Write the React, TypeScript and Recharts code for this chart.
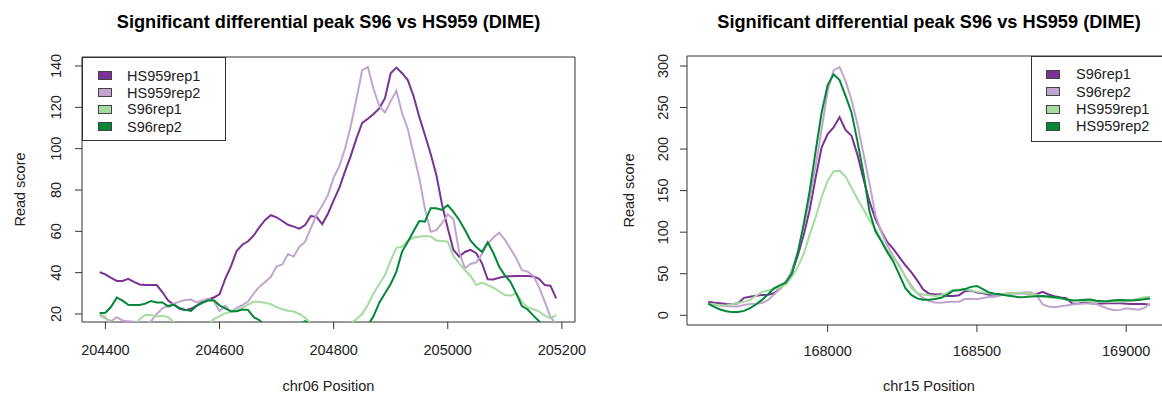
import React from 'react';
import { LineChart, Line, XAxis, YAxis, ReferenceArea, Legend } from 'recharts';

// ---- data: read scores, binned every 10 bp (chr06) / 20 bp (chr15) ----

const FONT = '"Liberation Sans", Arial, Helvetica, sans-serif';
const TITLE = 'Significant differential peak S96 vs HS959 (DIME)';

const PURPLE_DARK = '#7B3294';
const PURPLE_LIGHT = '#C2A5CF';
const GREEN_LIGHT = '#A6DBA0';
const GREEN_DARK = '#008837';

// chr06 bins: 204390 .. 205190, step 10
const chr06Start = 204390;
const chr06Step = 10;

const chr06Hs959rep1 = [
  40.2, 39.2, 37.5, 36, 36, 37, 35.5, 34.3, 34, 34, 34, 30.5, 26.5, 24.5, 22.5, 21.8, 22.5, 24, 26, 27,
  28, 29.5, 37, 43, 50.5, 53.5, 55.2, 58, 62, 65.5, 67.8, 66.8, 65, 63.2, 62.3, 61.3, 63, 67.4, 67, 63.5,
  68.5, 75, 81, 89, 96.5, 105, 112.5, 114.5, 116.8, 119.5, 124.4, 136.5, 139.2, 136.5, 133.2, 125.5, 115.5, 106.6, 97.5, 87.3,
  73, 61.5, 51, 47.8, 50, 51, 49.4, 44.5, 36.8, 36.7, 37.5, 38.1, 38.3, 38.4, 38.4, 38.4, 38.2, 37, 34, 33.7,
  27.6,
];
const chr06Hs959rep2 = [
  19.5, 17.9, 16.5, 18.5, 16.8, 16.5, 16.2, 15.5, 15.5, 16.5, 20, 22.8, 24, 25, 26, 26.8, 27, 25.6, 26.5, 27.5,
  26.3, 21.5, 24, 21, 23, 24.3, 26, 30, 33.2, 35.5, 38, 43, 44, 49, 47.8, 52.5, 55, 61.5, 68, 72.5,
  77.5, 86, 91.5, 100, 111, 124, 138, 139.5, 129, 120.5, 117.5, 123, 128, 117.1, 109.5, 97.5, 86, 71, 59.8, 60.6,
  64, 68.2, 66, 50, 42.1, 44.2, 45, 49, 54, 57, 59.3, 56, 51.5, 47, 41.2, 40.5, 38.4, 33, 26, 18.5,
  15,
];
const chr06S96rep1 = [
  20.3, 18.5, 15, 13, 12, 12, 14, 17.5, 19.5, 19.5, 18.8, 19.2, 18.5, 16, 14, 13, 12, 12, 13, 15,
  17.5, 19, 20.3, 21, 21.8, 23, 24.5, 26, 25.8, 25.4, 24.8, 23.3, 22.3, 21.6, 21.2, 20, 18.2, 15.5, 13, 12,
  11, 11, 11.5, 13, 15.5, 17.6, 20, 24.5, 30, 34.5, 38.9, 46, 52, 52.5, 55.5, 57, 57.4, 57.7, 57.5, 55.6,
  55.3, 55, 48, 44.5, 41.3, 38.4, 34, 35.2, 34, 32.7, 31, 29.2, 28.9, 30, 26, 23.2, 22.3, 21.2, 19.2, 18,
  19.5,
];
const chr06S96rep2 = [
  20.5, 20.6, 23.5, 28, 26.5, 24.5, 24.4, 24.4, 25, 26.3, 25.6, 25.6, 23.7, 24.5, 22.9, 22, 21.5, 24, 25.4, 26.5,
  26.6, 24.2, 22.7, 21.3, 21.3, 22.2, 22, 18.5, 17, 14.5, 13, 12.5, 12, 12.5, 13.5, 15, 16.5, 15, 12, 10,
  9, 8.5, 8.5, 9, 10, 11, 12, 14.5, 19, 25.5, 30, 34.5, 40.5, 50.2, 55, 60, 65, 64.7, 71.2, 71.2,
  70.4, 72.7, 69.4, 65.5, 60.8, 55.5, 52.4, 50, 54.7, 49.5, 43, 38.7, 35.5, 30, 23.8, 22.2, 19.2, 16.5, 13.5, 11,
  9,
];

// chr15 bins: 167600 .. 169080, step 20
const chr15Start = 167600;
const chr15Step = 20;

const chr15S96rep1 = [
  16.2, 15, 14.4, 13.7, 13.2, 14.5, 21, 22.2, 23.5, 24.5, 24.8, 26.5, 32, 39, 51, 72, 97, 127, 166, 202,
  218, 226, 238.5, 223, 216, 193, 164, 137, 116, 101, 88, 80, 70, 60.5, 52, 42, 31, 26, 25, 25.2,
  23.3, 23.3, 24.2, 29, 29.8, 27.3, 26.5, 24.8, 24.9, 25.3, 25.8, 26.5, 26.5, 26.5, 26, 25.3, 28.2, 25, 23, 21.5,
  20.5, 14, 14, 16, 14.5, 13.8, 14.3, 14.4, 14.4, 14.4, 14, 13.6, 13.6, 13.5, 12.8,
];
const chr15S96rep2 = [
  14, 12.8, 11.6, 11.2, 10.6, 10.6, 12.5, 13.5, 14, 14.8, 18.2, 24.8, 31.8, 40.5, 54, 77, 107, 141, 180, 224,
  270, 295, 298.5, 282, 259, 230, 194, 159, 121, 100, 84, 71, 59, 47, 36, 26.5, 21, 17, 15.5, 15.2,
  16, 16.4, 16.4, 19.5, 20, 19.3, 20.8, 21.9, 22.4, 24.2, 26.5, 26.5, 26.5, 27.6, 27.8, 24.5, 13, 10.5, 9.7, 10.8,
  11.8, 12.9, 13.7, 14.3, 14.2, 13.6, 10.5, 7.8, 6, 6.5, 8.3, 7.5, 6.8, 8.8, 14,
];
const chr15Hs959rep1 = [
  14, 13.2, 12.2, 11.8, 13.2, 14.6, 16.3, 18.4, 23.5, 28, 29.8, 31.5, 33.5, 37, 46, 58, 74, 97, 118, 142,
  162, 173, 174, 167, 153.5, 140, 127.5, 114.5, 104, 91, 78, 68.5, 61, 46, 33, 26.5, 25, 24, 23.3, 24,
  27, 30.5, 31, 31, 30, 28.3, 27.3, 26.5, 25.7, 25.7, 25.7, 26.5, 27.2, 27, 26, 24.5, 22.6, 21.7, 20.8, 20,
  19, 18.3, 17.9, 17.5, 17, 16.4, 16.4, 16.4, 16.4, 16.4, 17, 18.3, 20, 21.7, 22.3,
];
const chr15Hs959rep2 = [
  14, 10, 7, 4.8, 3.8, 4, 5.3, 8.5, 13, 18.5, 25, 32.5, 36, 39.5, 50, 74.5, 110, 150, 198, 244,
  277, 290, 283, 264, 244, 209, 171, 125, 101, 89, 76, 64.5, 49, 33, 24.5, 20.3, 18.8, 18.6, 19.5, 21,
  24.5, 29.6, 30.2, 31.5, 34.2, 35.3, 31.5, 27.5, 26, 25, 23.8, 23, 21.8, 22, 22.6, 23, 23.2, 22.6, 21.8, 21,
  19, 17.7, 18, 18.6, 19, 17.5, 16.8, 17.2, 18.2, 18.4, 18, 17.7, 18.5, 19.4, 20.2,
];

const chr06XTicks = [204400, 204600, 204800, 205000, 205200];
const chr06YTicks = [20, 40, 60, 80, 100, 120, 140];
const chr15XTicks = [168000, 168500, 169000];
const chr15YTicks = [0, 50, 100, 150, 200, 250, 300];

const leftSeries = [
  { key: 'HS959rep1', color: PURPLE_DARK, values: chr06Hs959rep1 },
  { key: 'HS959rep2', color: PURPLE_LIGHT, values: chr06Hs959rep2 },
  { key: 'S96rep1', color: GREEN_LIGHT, values: chr06S96rep1 },
  { key: 'S96rep2', color: GREEN_DARK, values: chr06S96rep2 },
];
const rightSeries = [
  { key: 'S96rep1', color: PURPLE_DARK, values: chr15S96rep1 },
  { key: 'S96rep2', color: PURPLE_LIGHT, values: chr15S96rep2 },
  { key: 'HS959rep1', color: GREEN_LIGHT, values: chr15Hs959rep1 },
  { key: 'HS959rep2', color: GREEN_DARK, values: chr15Hs959rep2 },
];

type Series = { key: string; color: string; values: number[] };

function buildRows(start: number, step: number, series: Series[]) {
  return series[0].values.map((_, i) => {
    const row: Record<string, number> = { pos: start + i * step };
    series.forEach((s) => {
      row[s.key] = s.values[i];
    });
    return row;
  });
}

const leftRows = buildRows(chr06Start, chr06Step, leftSeries);
const rightRows = buildRows(chr15Start, chr15Step, rightSeries);

const TXT = '#222';
const AXIS = '#333';

function XTick(props: any) {
  const { x, payload, labelY } = props;
  return (
    <text x={x} y={labelY} textAnchor="middle" fontSize={14.5} fontFamily={FONT} fill={TXT}>
      {payload.value}
    </text>
  );
}

function YTick(props: any) {
  const { y, payload, labelX } = props;
  return (
    <text
      x={labelX}
      y={y}
      transform={`rotate(-90 ${labelX} ${y})`}
      textAnchor="middle"
      fontSize={14.5}
      fontFamily={FONT}
      fill={TXT}
    >
      {payload.value}
    </text>
  );
}

function LegendBox({ series, swatchX, textX, rowY }: { series: Series[]; swatchX: number; textX: number; rowY: number[] }) {
  return (
    <div
      style={{
        position: 'relative',
        width: '100%',
        height: '100%',
        boxSizing: 'border-box',
        border: `1px solid ${AXIS}`,
        background: '#fff',
        fontFamily: FONT,
        fontSize: 14.5,
        color: TXT,
      }}
    >
      {series.map((s, i) => (
        <React.Fragment key={s.key}>
          <div
            style={{
              position: 'absolute',
              left: swatchX,
              top: rowY[i] - 4.5,
              width: 14,
              height: 9,
              boxSizing: 'border-box',
              background: s.color,
              border: '1px solid #444',
            }}
          />
          <div style={{ position: 'absolute', left: textX, top: rowY[i] - 9, lineHeight: '18px', whiteSpace: 'nowrap' }}>
            {s.key}
          </div>
        </React.Fragment>
      ))}
    </div>
  );
}

function Panel(props: {
  rows: Record<string, number>[];
  series: Series[];
  xDomain: [number, number];
  yDomain: [number, number];
  xTicks: number[];
  yTicks: number[];
  margin: { top: number; right: number; bottom: number; left: number };
  xLabelY: number;
  yLabelX: number;
  legendStyle: React.CSSProperties;
  legendRows: number[];
  legendSwatchX: number;
  legendTextX: number;
}) {
  const { rows, series, xDomain, yDomain, xTicks, yTicks, margin } = props;
  return (
    <LineChart width={600} height={394} data={rows} margin={margin}>
      <XAxis
        dataKey="pos"
        type="number"
        domain={xDomain}
        ticks={xTicks}
        allowDataOverflow
        height={30}
        axisLine={false}
        tickLine={{ stroke: AXIS }}
        tickSize={7}
        tick={(p: any) => <XTick {...p} labelY={props.xLabelY} />}
        interval={0}
      />
      <YAxis
        type="number"
        domain={yDomain}
        ticks={yTicks}
        allowDataOverflow
        width={40}
        axisLine={false}
        tickLine={{ stroke: AXIS }}
        tickSize={7}
        tick={(p: any) => <YTick {...p} labelX={props.yLabelX} />}
        interval={0}
      />
      {series.map((s) => (
        <Line
          key={s.key}
          type="linear"
          dataKey={s.key}
          stroke={s.color}
          strokeWidth={2}
          dot={false}
          activeDot={false}
          isAnimationActive={false}
        />
      ))}
      <ReferenceArea
        x1={xDomain[0]}
        x2={xDomain[1]}
        y1={yDomain[0]}
        y2={yDomain[1]}
        fill="none"
        fillOpacity={0}
        stroke={AXIS}
        strokeWidth={1}
        ifOverflow="visible"
      />
      <Legend
        layout="horizontal"
        verticalAlign="middle"
        align="center"
        wrapperStyle={props.legendStyle}
        content={() => (
          <LegendBox series={series} swatchX={props.legendSwatchX} textX={props.legendTextX} rowY={props.legendRows} />
        )}
      />
    </LineChart>
  );
}

export default function App() {
  return (
    <div
      style={{
        position: 'absolute',
        left: 0,
        top: 0,
        width: 1162,
        height: 394,
        overflow: 'hidden',
        background: '#fff',
      }}
    >
      <div style={{ position: 'absolute', left: 0, top: 0 }}>
        <Panel
          rows={leftRows}
          series={leftSeries}
          xDomain={[204359, 205223]}
          yDomain={[16.13, 144.35]}
          xTicks={chr06XTicks}
          yTicks={chr06YTicks}
          margin={{ top: 57, right: 25, bottom: 42, left: 42 }}
          xLabelY={355}
          yLabelX={61}
          legendStyle={{ left: 82, top: 57, width: 144, height: 84 }}
          legendRows={[17.7, 34.7, 51.3, 68.7]}
          legendSwatchX={15}
          legendTextX={44}
        />
      </div>
      <div style={{ position: 'absolute', left: 600, top: 0 }}>
        <Panel
          rows={rightRows}
          series={rightSeries}
          xDomain={[167529, 169150]}
          yDomain={[-11.7, 312]}
          xTicks={chr15XTicks}
          yTicks={chr15YTicks}
          margin={{ top: 56, right: 29, bottom: 39, left: 47 }}
          xLabelY={356}
          yLabelX={68}
          legendStyle={{ left: 431, top: 56, width: 145, height: 86 }}
          legendRows={[17.3, 34.7, 52.3, 69]}
          legendSwatchX={14}
          legendTextX={44}
        />
      </div>
      <svg
        width={1162}
        height={394}
        style={{ position: 'absolute', left: 0, top: 0, pointerEvents: 'none' }}
        fontFamily={FONT}
      >
        <text x={328.5} y={28} textAnchor="middle" fontSize={18.2} fontWeight="bold" fill="#000">
          {TITLE}
        </text>
        <text x={929} y={28} textAnchor="middle" fontSize={18.2} fontWeight="bold" fill="#000">
          {TITLE}
        </text>
        <text x={328.5} y={391} textAnchor="middle" fontSize={14.5} fill={TXT}>
          chr06 Position
        </text>
        <text x={929} y={391} textAnchor="middle" fontSize={14.5} fill={TXT}>
          chr15 Position
        </text>
        <text x={24.5} y={189.5} transform="rotate(-90 24.5 189.5)" textAnchor="middle" fontSize={14.5} fill={TXT}>
          Read score
        </text>
        <text x={633.5} y={190.5} transform="rotate(-90 633.5 190.5)" textAnchor="middle" fontSize={14.5} fill={TXT}>
          Read score
        </text>
      </svg>
    </div>
  );
}
